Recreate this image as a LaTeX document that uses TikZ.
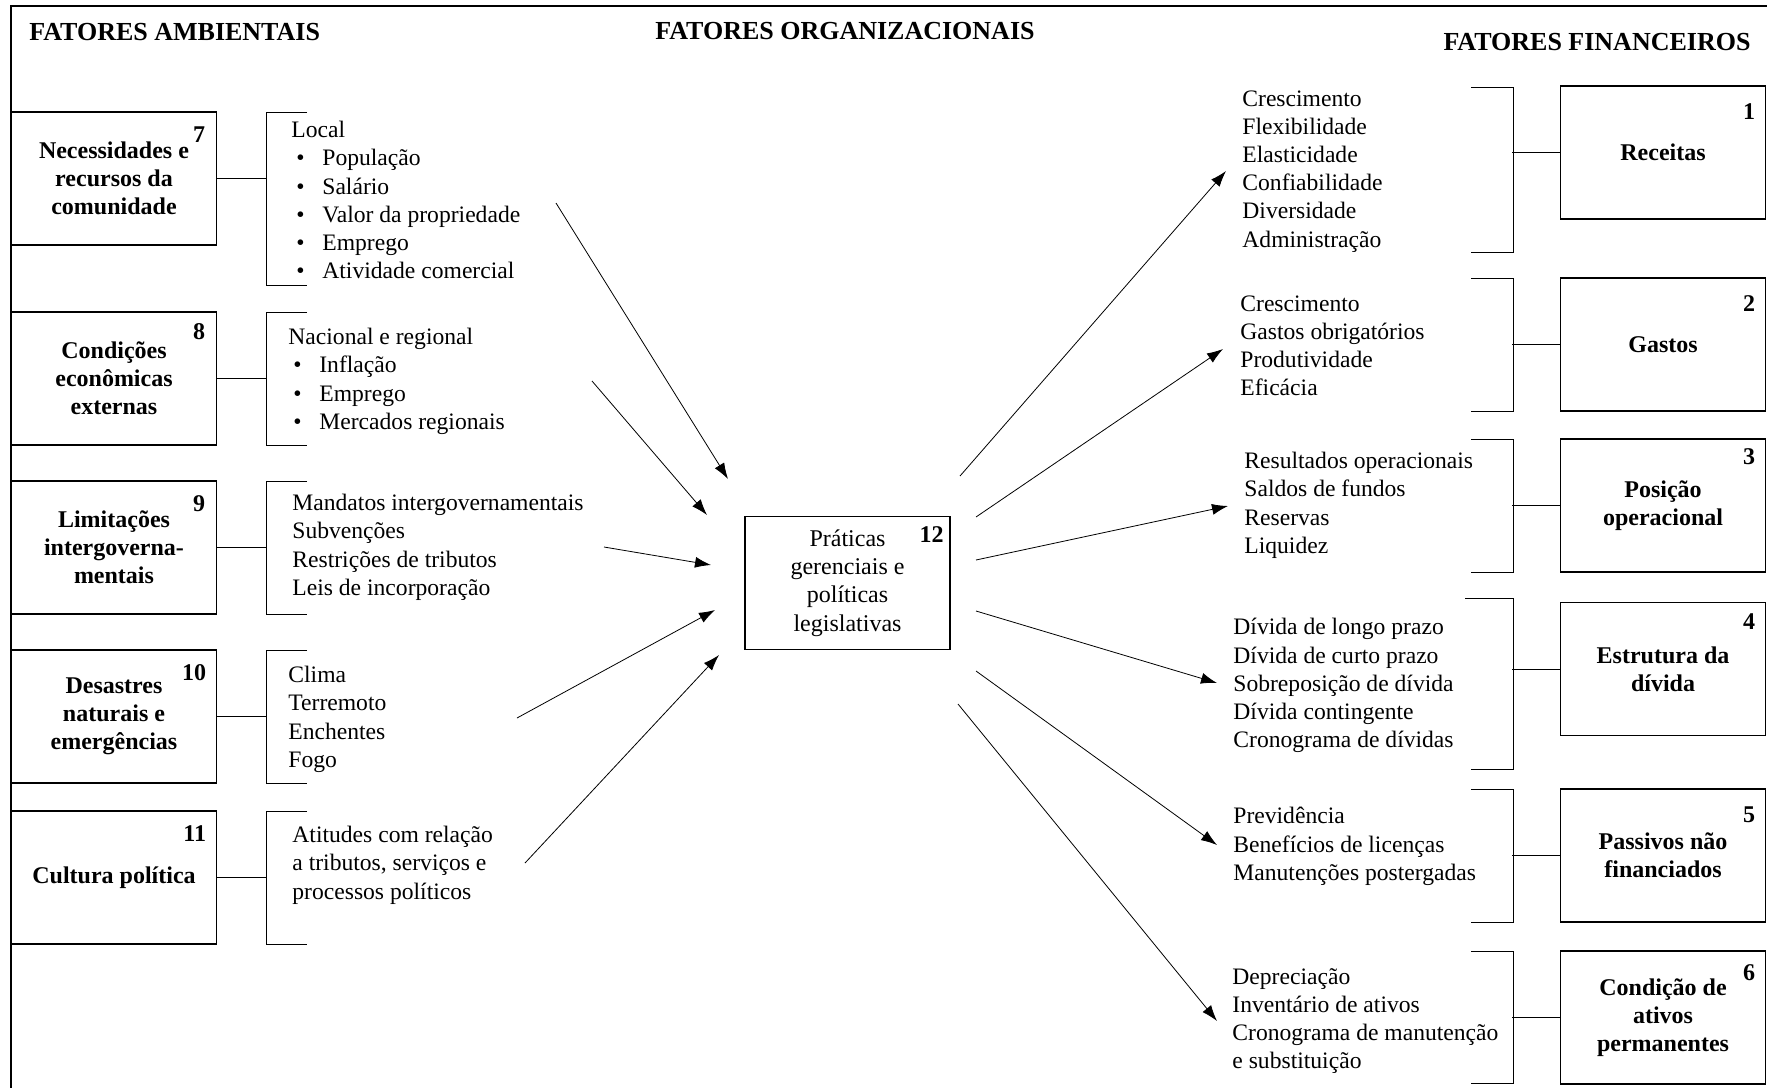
\documentclass[tikz,border=0pt]{standalone}
\usepackage{fontspec}
\setmainfont{Liberation Serif}
\usetikzlibrary{arrows.meta}
\tikzset{
  >={Latex[length=8pt,width=5.5pt]},
}
\tikzstyle{every node}=[font=\fontsize{11.8}{14.1}\selectfont]
\tikzstyle{head}=[inner sep=0pt,font=\fontsize{13}{15}\selectfont\bfseries]
\tikzstyle{box}=[draw,line width=0.9pt,minimum width=102.5pt,minimum height=66.5pt,align=center,inner sep=2pt,font=\fontsize{12}{14.1}\selectfont\bfseries]
\tikzstyle{num}=[anchor=north east,inner sep=0pt,font=\fontsize{12}{14.1}\selectfont\bfseries]
\tikzstyle{list}=[anchor=north west,align=left,inner sep=0pt]
\tikzstyle{brk}=[line width=0.5pt]
\newcommand{\itm}{\hspace*{2.5pt}\makebox[13pt][l]{\textbullet}}

\begin{document}
\begin{tikzpicture}[x=0.5pt,y=-0.5pt]
        \useasboundingbox (0,0) rectangle (1767,1088);
        \draw[line width=0.8pt] (1767,6) -| (11,1088);
        % headings
        \node[head,anchor=west] (hamb) at (29,32) {FATORES AMBIENTAIS};
        \node[head] (horg) at (845,31) {FATORES ORGANIZACIONAIS};
        \node[head] (hfin) at (1597,42) {FATORES FINANCEIROS};
        % environmental factors
        \node[box] (b7) at (114,178.5) {Necessidades e\\recursos da\\comunidade};
        \node[box] (b8) at (114,378.5) {Condições\\econômicas\\externas};
        \node[box] (b9) at (114,547.5) {Limitações\\intergoverna-\\mentais};
        \node[box] (b10) at (114,716.5) {Desastres\\naturais e\\emergências};
        \node[box] (b11) at (114,877.5) {Cultura política};
        \node[num] (n7) at ([xshift=-6pt,yshift=-7.5pt]b7.north east) {7};
        \node[num] (n8) at ([xshift=-6pt,yshift=-6pt]b8.north east) {8};
        \node[num] (n9) at ([xshift=-6pt,yshift=-7.5pt]b9.north east) {9};
        \node[num] (n10) at ([xshift=-5.5pt,yshift=-7.5pt]b10.north east) {10};
        \node[num] (n11) at ([xshift=-5.5pt,yshift=-7.5pt]b11.north east) {11};
        \draw[brk] (307,112) -| (266,285) -- (307,285);
        \draw[brk] (307,312) -| (266,445) -- (307,445);
        \draw[brk] (307,481) -| (266,614) -- (307,614);
        \draw[brk] (307,650) -| (266,783) -- (307,783);
        \draw[brk] (307,811) -| (266,944) -- (307,944);
        \draw[brk] (b7.east) -- ++(49,0);
        \draw[brk] (b8.east) -- ++(49,0);
        \draw[brk] (b9.east) -- ++(49,0);
        \draw[brk] (b10.east) -- ++(49,0);
        \draw[brk] (b11.east) -- ++(49,0);
        \node[list] (l7) at (291,121) {Local\\\itm População\\\itm Salário\\\itm Valor da propriedade\\\itm Emprego\\\itm Atividade comercial};
        \node[list] (l8) at (288,328) {Nacional e regional\\\itm Inflação\\\itm Emprego\\\itm Mercados regionais};
        \node[list] (l9) at (292,494) {Mandatos intergovernamentais\\Subvenções\\Restrições de tributos\\Leis de incorporação};
        \node[list] (l10) at (288,666) {Clima\\Terremoto\\Enchentes\\Fogo};
        \node[list] (l11) at (292,826) {Atitudes com relação\\a tributos, serviços e\\processos políticos};
        % organizational factors
        \node[box,font=\fontsize{12}{14.1}\selectfont] (p12) at (847.5,583) {Práticas\\gerenciais e\\políticas\\legislativas};
        \node[num] (n12) at ([xshift=-3.5pt,yshift=-5.5pt]p12.north east) {12};
        \coordinate (s7) at (556,203);  \coordinate (e7) at (728,479);
        \coordinate (s8) at (592,381);  \coordinate (e8) at (707,515);
        \coordinate (s9) at (604,547);  \coordinate (e9) at (711,565);
        \coordinate (s10) at (517,718); \coordinate (e10) at (715,610);
        \coordinate (s11) at (525,863); \coordinate (e11) at (719,655);
        \draw[->] (s7) -- (e7);
        \draw[->] (s8) -- (e8);
        \draw[->] (s9) -- (e9);
        \draw[->] (s10) -- (e10);
        \draw[->] (s11) -- (e11);
        \coordinate (s1) at (960,476); \coordinate (e1) at (1226,171);
        \coordinate (s2) at (976,517); \coordinate (e2) at (1223,349);
        \coordinate (s3) at (976,560); \coordinate (e3) at (1228,506);
        \coordinate (s4) at (976,611); \coordinate (e4) at (1217,683);
        \coordinate (s5) at (976,671); \coordinate (e5) at (1217,845);
        \coordinate (s6) at (958,704); \coordinate (e6) at (1217,1021);
        \draw[->] (s1) -- (e1);
        \draw[->] (s2) -- (e2);
        \draw[->] (s3) -- (e3);
        \draw[->] (s4) -- (e4);
        \draw[->] (s5) -- (e5);
        \draw[->] (s6) -- (e6);
        % financial factors
        \node[list] (l1) at (1242,90) {Crescimento\\Flexibilidade\\Elasticidade\\Confiabilidade\\Diversidade\\Administração};
        \node[list] (l2) at (1240,295) {Crescimento\\Gastos obrigatórios\\Produtividade\\Eficácia};
        \node[list] (l3) at (1244,452) {Resultados operacionais\\Saldos de fundos\\Reservas\\Liquidez};
        \node[list] (l4) at (1233,618) {Dívida de longo prazo\\Dívida de curto prazo\\Sobreposição de dívida\\Dívida contingente\\Cronograma de dívidas};
        \node[list] (l5) at (1233,807) {Previdência\\Benefícios de licenças\\Manutenções postergadas};
        \node[list] (l6) at (1232,968) {Depreciação\\Inventário de ativos\\Cronograma de manutenção\\e substituição};
        \draw[brk] (1471,87) -| (1513,252) -- (1471,252);
        \draw[brk] (1471,278) -| (1513,411) -- (1471,411);
        \draw[brk] (1471,439) -| (1513,572) -- (1471,572);
        \draw[brk] (1465,598) -| (1513,769) -- (1471,769);
        \draw[brk] (1471,789) -| (1513,922) -- (1471,922);
        \draw[brk] (1471,951) -| (1513,1083) -- (1471,1083);
        \node[box] (r1) at (1663,152.5) {Receitas};
        \node[box] (r2) at (1663,344.5) {Gastos};
        \node[box] (r3) at (1663,505.5) {Posição\\operacional};
        \node[box] (r4) at (1663,669) {Estrutura da\\dívida};
        \node[box] (r5) at (1663,855.5) {Passivos não\\financiados};
        \node[box] (r6) at (1663,1017.5) {Condição de\\ativos\\permanentes};
        \node[num] (n1) at ([xshift=-5.5pt,yshift=-9pt]r1.north east) {1};
        \node[num] (n2) at ([xshift=-5.5pt,yshift=-9pt]r2.north east) {2};
        \node[num] (n3) at ([xshift=-5.5pt,yshift=-5pt]r3.north east) {3};
        \node[num] (n4) at ([xshift=-5.5pt,yshift=-6pt]r4.north east) {4};
        \node[num] (n5) at ([xshift=-5.5pt,yshift=-9pt]r5.north east) {5};
        \node[num] (n6) at ([xshift=-5.5pt,yshift=-7pt]r6.north east) {6};
        \draw[brk] (r1.west) -- ++(-48,0);
        \draw[brk] (r2.west) -- ++(-48,0);
        \draw[brk] (r3.west) -- ++(-48,0);
        \draw[brk] (r4.west) -- ++(-48,0);
        \draw[brk] (r5.west) -- ++(-48,0);
        \draw[brk] (r6.west) -- ++(-48,0);
      \end{tikzpicture}
\end{document}
